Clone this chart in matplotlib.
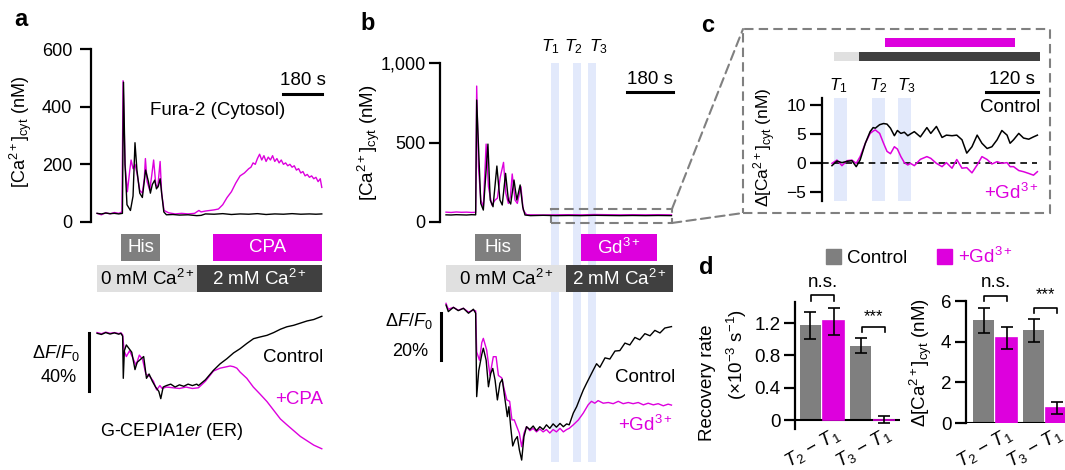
import matplotlib
matplotlib.use("Agg")
import matplotlib.pyplot as plt
from matplotlib.patches import Rectangle, Patch, ConnectionPatch

plt.rcParams["font.family"] = ["Liberation Sans", "DejaVu Sans"]
plt.rcParams["font.size"] = 13.5
plt.rcParams["mathtext.fontset"] = "custom"
plt.rcParams["mathtext.rm"] = "Liberation Sans"
plt.rcParams["mathtext.it"] = "Liberation Sans:italic"
plt.rcParams["mathtext.bf"] = "Liberation Sans:bold"

MAG = "#DD00DD"
GRAY = "#7F7F7F"
DARK = "#404040"
LIGHT = "#E0E0E0"
BAND = "#E2E9FB"
DASH = "#808080"

# ---- panel a: cytosolic Ca (nM), time in s ----
a_ca_t_ctrl = [0, 20, 40, 60, 80, 100, 117, 122, 129, 138, 154, 166, 175, 184, 197, 209, 224,
               237, 246, 255, 266, 274, 283, 291, 298, 308, 320, 350, 380, 420, 460, 480, 500,
               540, 580, 620, 660, 700, 740, 780, 820, 860, 900, 940, 980, 1010, 1037]
a_ca_ctrl = [30, 28, 31, 29, 30, 28, 30, 485, 200, 60, 40, 90, 275, 180, 100, 85, 180,
             140, 100, 130, 145, 115, 125, 150, 100, 35, 25, 26, 24, 25, 22, 23, 28,
             27, 29, 26, 28, 27, 29, 26, 28, 27, 29, 27, 28, 27, 28]
a_ca_t_cpa = [0, 20, 40, 60, 80, 100, 115, 120, 129, 140, 151, 157, 166, 175, 184, 197, 209,
              218, 223, 231, 243, 252, 261, 271, 280, 291, 298, 309, 330, 360, 390, 420, 450,
              470, 480, 500, 520, 540, 560, 580, 600, 620, 640, 660, 680, 700, 710, 720, 730,
              740, 750, 760, 770, 780, 790, 800, 810, 820, 830, 840, 850, 860, 870, 880, 890,
              900, 910, 920, 930, 940, 950, 960, 970, 980, 990, 1000, 1010, 1020, 1030, 1037]
a_ca_cpa = [30, 25, 32, 28, 33, 30, 35, 490, 200, 105, 180, 215, 185, 200, 170, 110, 100,
            150, 220, 140, 110, 160, 215, 130, 120, 210, 100, 40, 32, 28, 30, 28, 30,
            40, 35, 38, 40, 42, 45, 60, 85, 105, 135, 160, 170, 185, 190, 205, 200,
            220, 235, 215, 230, 210, 225, 215, 230, 210, 220, 205, 215, 200, 205, 195, 200,
            190, 195, 180, 185, 170, 175, 160, 165, 155, 160, 150, 155, 140, 150, 120]

# ---- panel a: ER G-CEPIA1er dF/F0 (%) ----
a_er_t_ctrl = [0, 20, 40, 60, 80, 100, 110, 118, 121, 126, 135, 145, 160, 175, 185, 200, 215,
               228, 240, 255, 270, 285, 294, 305, 320, 340, 360, 380, 400, 420, 440, 460, 468,
               500, 537, 568, 599, 630, 660, 691, 722, 753, 784, 815, 846, 876, 907, 938, 969,
               1000, 1037]
a_er_ctrl = [0, -0.8, 0.5, -0.5, 0.3, -0.6, 0, -2, -31, -12, -8, -10, -13, -25, -20, -18, -16,
             -31, -28, -33, -37, -40, -45, -37, -36, -35, -37, -35.5, -36.5, -35, -36, -35, -36,
             -32, -25.5, -21, -17.5, -13.5, -10.6, -7, -3.7, -2.5, -1.4, 0.5, 2.8, 4.5, 5.5, 7, 8.5,
             9.5, 11.7]
a_er_t_cpa = [0, 20, 40, 60, 80, 100, 110, 118, 125, 135, 150, 165, 180, 195, 210, 225, 245,
              260, 275, 290, 300, 320, 350, 380, 410, 440, 468, 500, 537, 568, 599, 614, 630,
              645, 660, 691, 721, 753, 784, 815, 846, 876, 907, 938, 969, 1000, 1037]
a_er_cpa = [0.5, -0.3, 0.8, 0, 0.5, -0.2, 0.3, -1, -12, -16, -12, -17, -22, -15, -18, -28, -30,
            -33, -39, -36, -38, -37, -37.5, -38, -37, -38, -37.5, -33, -26, -24, -23, -22.5, -23,
            -24, -26.7, -31, -37, -42, -47, -53, -59, -63, -67, -71, -74, -77, -79.5]

# ---- panel b: cytosolic Ca (nM) ----
b_ca_t_ctrl = [0, 20, 40, 60, 80, 100, 116, 120, 129, 136, 146, 164, 173, 184, 199, 211, 220,
               233, 244, 253, 266, 277, 290, 300, 309, 330, 380, 430, 480, 530, 580, 630, 680,
               730, 780, 830, 882]
b_ca_ctrl = [45, 44, 46, 45, 44, 46, 45, 767, 400, 117, 75, 490, 138, 96, 352, 138, 107,
             306, 138, 113, 264, 138, 233, 96, 44, 40, 42, 40, 41, 40, 42, 41, 40,
             41, 40, 41, 40]
b_ca_t_gd = [0, 20, 40, 60, 80, 100, 116, 120, 127, 136, 146, 157, 166, 179, 192, 201, 212,
             225, 234, 244, 252, 259, 270, 279, 286, 293, 302, 315, 340, 380, 430, 480, 530,
             580, 630, 680, 730, 780, 830, 882]
b_ca_gd = [62, 60, 63, 61, 62, 60, 61, 855, 348, 138, 96, 490, 222, 107, 138, 150, 280,
           375, 180, 117, 160, 302, 138, 117, 170, 222, 75, 46, 45, 44, 45, 46, 45,
           47, 46, 45, 46, 45, 46, 45]

# ---- panel b: ER dF/F0 (%) ----
b_er_t_ctrl = [0, 9, 29, 48, 68, 88, 107, 116, 120, 128, 140, 146, 157, 166, 175, 183, 192, 201,
               211, 220, 231, 240, 246, 253, 261, 270, 279, 287, 296, 305, 315, 328, 341, 354,
               367, 380, 393, 406, 419, 432, 446, 459, 472, 482, 498, 511, 524, 537, 550, 563,
               576, 589, 602, 622, 641, 661, 680, 700, 719, 739, 758, 778, 798, 817, 837, 856, 882]
b_er_ctrl = [0, -2.8, -1, -2.4, -1.4, -3.5, -1.8, -3.5, -39, -28, -21, -18.4, -23.5, -34.8, -29.1,
             -27, -32, -40.4, -33.3, -31.6, -40.4, -47.5, -43.3, -51.8, -60, -57.4, -56, -61.7,
             -66, -56, -51.8, -53, -51.5, -53.5, -51.8, -53, -51, -52.5, -50.6, -52, -50.4, -51.8,
             -50.6, -51, -46, -43.3, -39.7, -36.2, -33.3, -30.5, -27.7, -25, -26.5, -22.5, -23,
             -19.6, -19.4, -16.2, -17, -13.8, -14.8, -12.2, -13.1, -10.8, -11.9, -9.8, -9.2]
b_er_t_gd = [0, 9, 29, 48, 68, 88, 107, 116, 120, 131, 140, 146, 159, 172, 185, 196, 205, 218,
             228, 238, 249, 258, 267, 277, 287, 296, 305, 315, 328, 341, 354, 367, 380, 393,
             406, 419, 432, 446, 459, 472, 482, 498, 518, 537, 556, 569, 582, 595, 615, 635,
             654, 674, 693, 713, 732, 752, 772, 791, 811, 830, 850, 869, 882]
b_er_gd = [0.7, -1.8, -1, -2.2, -1.4, -3, -2.2, -2.5, -20, -23.5, -16, -14.2, -19.1, -30, -22,
           -22, -30, -31, -36, -40.4, -41, -48.9, -48.9, -51.8, -54.6, -60.3, -54.6, -51.8,
           -53.5, -52.5, -54, -52.8, -54, -53, -54.5, -53, -54, -52.5, -54, -53, -52.5, -51,
           -48.9, -46, -42.5, -41, -41.8, -40.7, -41.8, -41.5, -42, -41, -42, -41.5, -42,
           -41.5, -42.5, -41.8, -42.5, -42, -42.9, -42.2, -42.6]
b_windows = [(410, 442), (497, 528), (555, 587)]

# ---- panel c: zoomed delta [Ca]cyt (nM) ----
c_t = [0, 11.5, 23, 35, 46, 56, 65, 77, 88, 95, 100, 110, 119, 127, 135, 144, 151, 159, 167, 175,
       181, 190, 204, 219, 228, 241, 254, 264, 277, 288, 300, 311, 323, 335, 346, 358, 369, 381,
       392, 404, 411, 419, 431, 442, 454, 465, 474]
c_ctrl = [-0.46, 0.34, 0.06, 0.29, 0.40, -0.63, 0.52, 3.4, 5.4, 6.1, 6.0, 6.6, 6.8, 6.7, 6.0, 4.7,
          5.6, 5.1, 5.3, 4.7, 5.0, 5.4, 4.5, 6.1, 5.1, 6.3, 4.4, 4.8, 4.7, 4.8, 4.0, 1.7, 2.8, 4.8,
          3.4, 2.5, 2.8, 4.0, 5.6, 4.8, 3.4, 4.0, 5.1, 4.3, 4.1, 4.5, 4.8]
c_gd = [-0.06, 0.5, -0.46, 0.4, 0.5, -0.06, 1.1, 3.4, 5.1, 5.5, 5.7, 5.1, 3.4, 2.0, 1.6, 2.8, 2.4,
        1.1, 0.06, -0.34, -0.06, -0.46, 0.63, 1.1, 0.8, -0.06, -0.63, 0.06, -0.9, 0.6, -0.9, -0.8,
        -1.7, -0.34, 1.1, 0.6, -0.17, 0.23, -0.06, 0.06, -0.63, -0.63, -1.3, -1.5, -1.8, -2.1, -1.5]
c_windows = [(4.6, 34.6), (92, 122), (152, 182)]
t_labels = [r"$T_1$", r"$T_2$", r"$T_3$"]

# ---- panel d: bar summaries ----
d_groups = ["$T_2$ \u2212 $T_1$", "$T_3$ \u2212 $T_1$"]
d_rate_ctrl = [1.17, 0.92]
d_rate_ctrl_err = [0.17, 0.095]
d_rate_gd = [1.22, 0.005]
d_rate_gd_err = [0.17, 0.045]
d_amp_ctrl = [5.05, 4.55]
d_amp_ctrl_err = [0.62, 0.55]
d_amp_gd = [4.17, 0.72]
d_amp_gd_err = [0.53, 0.3]

W, H = 1065, 470
fig = plt.figure(figsize=(W / 100, H / 100), dpi=100)


def box(x0, x1, y0, y1):
    return [x0 / W, 1 - y1 / H, (x1 - x0) / W, (y1 - y0) / H]


def ftext(x, y, s, **kw):
    fig.text(x / W, 1 - y / H, s, **kw)


def style_left(ax, ticks, labels, size=13, length=8, pad=2.5):
    for s in ["top", "right", "bottom"]:
        ax.spines[s].set_visible(False)
    ax.spines["left"].set_linewidth(1.6)
    ax.set_yticks(ticks, labels)
    ax.tick_params(axis="y", length=length, width=1.6, pad=pad, labelsize=size)
    ax.set_xticks([])
    ax.patch.set_alpha(0)


def cond_bars(ax, rows):
    ax.set_ylim(58, 0)
    ax.axis("off")
    for (x0, x1, row, fc, tc, label) in rows:
        y0 = 0 if row == 0 else 31
        ax.add_patch(Rectangle((x0, y0), x1 - x0, 27, fc=fc, ec="none", clip_on=False))
        ax.text((x0 + x1) / 2, y0 + 13.5, label, color=tc, ha="center", va="center")


# ================= panel a =================
xa = (-28, 1038)
axA = fig.add_axes(box(91, 322, 49, 222))
axA.plot(a_ca_t_cpa, a_ca_cpa, color=MAG, lw=1.0, clip_on=False)
axA.plot(a_ca_t_ctrl, a_ca_ctrl, color="black", lw=1.0, clip_on=False)
axA.set_xlim(*xa)
axA.set_ylim(0, 600)
style_left(axA, [0, 200, 400, 600], ["0", "200", "400", "600"], pad=5.5)
axA.plot([858, 1038], [444, 444], color="black", lw=2.2, clip_on=False)
axA.text(948, 462, "180 s", ha="center", va="bottom")
axA.text(558, 385, "Fura-2 (Cytosol)", ha="center", va="center")
ftext(21, 132, r"[Ca$^{2+}$]$_{\rm cyt}$ (nM)", rotation=90, ha="center", va="center",
      fontsize=13)

axAb = fig.add_axes(box(91, 322, 234, 292))
axAb.set_xlim(*xa)
cond_bars(axAb, [(111, 291, 0, GRAY, "white", "His"),
                 (535, 1038, 0, MAG, "white", "CPA"),
                 (0, 461, 1, LIGHT, "black", r"0 mM Ca$^{2+}$"),
                 (461, 1038, 1, DARK, "white", r"2 mM Ca$^{2+}$")])

axAe = fig.add_axes(box(91, 322, 297, 464))
axAe.plot(a_er_t_cpa, a_er_cpa, color=MAG, lw=1.0, clip_on=False)
axAe.plot(a_er_t_ctrl, a_er_ctrl, color="black", lw=1.0, clip_on=False)
axAe.set_xlim(*xa)
axAe.set_ylim(-90, 25)
axAe.axis("off")
axAe.plot([-37, -37], [0, -40], color="black", lw=2.2, clip_on=False)
ftext(80, 353, r"$\Delta F/F_0$", ha="right", va="center", fontsize=13)
ftext(77, 378, "40%", ha="right", va="center", fontsize=13)
ftext(323, 358, "Control", ha="right", va="center")
ftext(323, 400, "+CPA", ha="right", va="center", color=MAG)
ftext(100, 432, r"G-CEPIA1$er$ (ER)", ha="left", va="center", fontsize=13)

# ================= panel b =================
xb = (-23.5, 888)
axBg = fig.add_axes(box(440, 673, 63, 462))
axBg.set_xlim(*xb)
axBg.axis("off")
for (w0, w1) in b_windows:
    axBg.axvspan(w0, w1, color=BAND, lw=0)

axB = fig.add_axes(box(440, 673, 63, 222))
axB.plot(b_ca_t_gd, b_ca_gd, color=MAG, lw=1.0, clip_on=False)
axB.plot(b_ca_t_ctrl, b_ca_ctrl, color="black", lw=1.0, clip_on=False)
axB.set_xlim(*xb)
axB.set_ylim(0, 1000)
style_left(axB, [0, 500, 1000], ["0", "500", "1,000"])
for xc, lab in zip([407, 497, 595], t_labels):
    axB.text(xc, 1100, lab, ha="center", va="center", fontsize=12.5)
axB.plot([708, 888], [818, 818], color="black", lw=2.2, clip_on=False)
axB.text(798, 840, "180 s", ha="center", va="bottom")
axB.add_patch(Rectangle((410, -6), 474, 88, fill=False, ec=DASH, lw=1.5,
                        ls=(0, (4.5, 2.5)), clip_on=False))
ftext(369, 143, r"[Ca$^{2+}$]$_{\rm cyt}$ (nM)", rotation=90, ha="center", va="center",
      fontsize=13.5)

axBb = fig.add_axes(box(440, 673, 234, 292))
axBb.set_xlim(*xb)
cond_bars(axBb, [(113, 293, 0, GRAY, "white", "His"),
                 (528, 825, 0, MAG, "white", r"Gd$^{3+}$"),
                 (0, 469, 1, LIGHT, "black", r"0 mM Ca$^{2+}$"),
                 (469, 888, 1, DARK, "white", r"2 mM Ca$^{2+}$")])

axBe = fig.add_axes(box(440, 673, 295, 465))
axBe.plot(b_er_t_gd, b_er_gd, color=MAG, lw=1.0, clip_on=False)
axBe.plot(b_er_t_ctrl, b_er_ctrl, color="black", lw=1.0, clip_on=False)
axBe.set_xlim(*xb)
axBe.set_ylim(-68.1, 4.26)
axBe.axis("off")
axBe.plot([-19.5, -19.5], [-3.4, -23.4], color="black", lw=2.2, clip_on=False)
ftext(433, 321, r"$\Delta F/F_0$", ha="right", va="center", fontsize=13)
ftext(428, 352, "20%", ha="right", va="center", fontsize=13)
ftext(675, 377, "Control", ha="right", va="center")
ftext(673, 425, r"+Gd$^{3+}$", ha="right", va="center", color=MAG)

# ================= panel c =================
axC = fig.add_axes(box(822, 1040, 98, 201))
for (w0, w1) in c_windows:
    axC.axvspan(w0, w1, color=BAND, lw=0)
axC.plot([-23, 474], [0, 0], color="black", lw=1.2, ls=(0, (4, 3)))
axC.plot(c_t, c_gd, color=MAG, lw=1.1)
axC.plot(c_t, c_ctrl, color="black", lw=1.1)
axC.set_xlim(-23, 480)
axC.set_ylim(-6.55, 11.2)
style_left(axC, [-5, 0, 5, 10], ["\u22125", "0", "5", "10"], size=12.5, length=9)
axC.add_patch(Rectangle((122, 20.0), 300, 1.6, fc=MAG, ec="none", clip_on=False))
axC.add_patch(Rectangle((4.6, 17.6), 57.4, 1.5, fc=LIGHT, ec="none", clip_on=False))
axC.add_patch(Rectangle((62, 17.6), 418, 1.5, fc=DARK, ec="none", clip_on=False))
for xc, lab in zip([15, 108, 171], t_labels):
    axC.text(xc, 13.4, lab, ha="center", va="center", fontsize=12.5, clip_on=False)
axC.plot([355, 475], [12.3, 12.3], color="black", lw=2.2, clip_on=False)
axC.text(415, 13.0, "120 s", ha="center", va="bottom")
axC.text(480, 9.5, "Control", ha="right", va="center")
axC.text(476, -5.2, r"+Gd$^{3+}$", ha="right", va="center", color=MAG)
ftext(765, 147, r"$\Delta$[Ca$^{2+}$]$_{\rm cyt}$ (nM)", rotation=90, ha="center",
      va="center", fontsize=12.5)

fig.add_artist(Rectangle((743 / W, 1 - 213 / H), (1050 - 743) / W, (213 - 29) / H,
                         transform=fig.transFigure, fill=False, ec=DASH, lw=1.5,
                         ls=(0, (4.5, 2.5))))
for yv, ypx in [(82, 29), (-6, 213)]:
    fig.add_artist(ConnectionPatch(xyA=(884, yv), coordsA=axB.transData,
                                   xyB=(743 / W, 1 - ypx / H), coordsB=fig.transFigure,
                                   color=DASH, lw=1.5, ls=(0, (4.5, 2.5))))


# ================= panel d =================
def bar_panel(ax, ctrl, ctrl_err, gd, gd_err):
    xs = [0, 1]
    ax.bar([x - 0.23 for x in xs], ctrl, width=0.42, color=GRAY, zorder=2)
    ax.bar([x + 0.23 for x in xs], gd, width=0.42, color=MAG, ec=MAG, lw=1.2, zorder=3)
    ax.errorbar([x - 0.23 for x in xs], ctrl, yerr=ctrl_err, fmt="none", ecolor="black",
                elinewidth=1.2, capsize=4, capthick=1.2, zorder=4)
    ax.errorbar([x + 0.23 for x in xs], gd, yerr=gd_err, fmt="none", ecolor="black",
                elinewidth=1.2, capsize=4, capthick=1.2, zorder=4)
    ax.axhline(0, color="black", lw=1.5, zorder=2.5)


def bracket(ax, x0, x1, ytop, ybot, label, ytext, fs):
    ax.plot([x0, x0, x1, x1], [ybot, ytop, ytop, ybot], color="black", lw=1.2,
            clip_on=False)
    ax.text((x0 + x1) / 2, ytext, label, ha="center", va="center", fontsize=fs,
            clip_on=False)


axD1 = fig.add_axes(box(795, 900, 302, 429))
bar_panel(axD1, d_rate_ctrl, d_rate_ctrl_err, d_rate_gd, d_rate_gd_err)
axD1.set_xlim(-0.535, 1.545)
axD1.set_ylim(-0.11, 1.46)
style_left(axD1, [0, 0.4, 0.8, 1.2], ["0", "0.4", "0.8", "1.2"], size=13.5)
bracket(axD1, -0.22, 0.24, 1.55, 1.47, "n.s.", 1.70, 13.5)
bracket(axD1, 0.79, 1.25, 1.15, 1.09, "***", 1.28, 12)
for x, lab in zip([0, 1], d_groups):
    axD1.text(x + 0.24, -0.05, lab, rotation=30, rotation_mode="anchor", ha="right",
              va="top", fontsize=13.5, clip_on=False)
ftext(708, 383, "Recovery rate", rotation=90, ha="center", va="center")
ftext(737, 354, r"($\times$10$^{-3}$ s$^{-1}$)", rotation=90, ha="center", va="center")

axD2 = fig.add_axes(box(966, 1065, 301, 423))
bar_panel(axD2, d_amp_ctrl, d_amp_ctrl_err, d_amp_gd, d_amp_gd_err)
axD2.set_xlim(-0.58, 1.4)
axD2.set_ylim(0, 6)
style_left(axD2, [0, 2, 4, 6], ["0", "2", "4", "6"], size=13.5)
bracket(axD2, -0.22, 0.24, 6.26, 6.0, "n.s.", 6.9, 13.5)
bracket(axD2, 0.78, 1.24, 5.67, 5.42, "***", 6.3, 12)
for x, lab in zip([0, 1], d_groups):
    axD2.text(x + 0.22, -0.05, lab, rotation=30, rotation_mode="anchor", ha="right",
              va="top", fontsize=13.5, clip_on=False)
ftext(921, 363, r"$\Delta$[Ca$^{2+}$]$_{\rm cyt}$ (nM)", rotation=90, ha="center",
      va="center")

leg = fig.legend(handles=[Patch(color=GRAY), Patch(color=MAG)],
                 labels=["Control", r"+Gd$^{3+}$"], loc="upper left",
                 bbox_to_anchor=(826 / W, 1 - 247 / H), ncol=2, frameon=False,
                 handlelength=0.8, handleheight=0.8, handletextpad=0.3,
                 columnspacing=1.6, borderpad=0, borderaxespad=0)
leg.get_texts()[1].set_color(MAG)

# panel letters
for x, y, s in [(21, 20, "a"), (368, 23, "b"), (708, 25, "c"), (706, 267, "d")]:
    ftext(x, y, s, ha="center", va="center", fontsize=17, fontweight="bold")

fig.savefig("out.png", dpi=100)
